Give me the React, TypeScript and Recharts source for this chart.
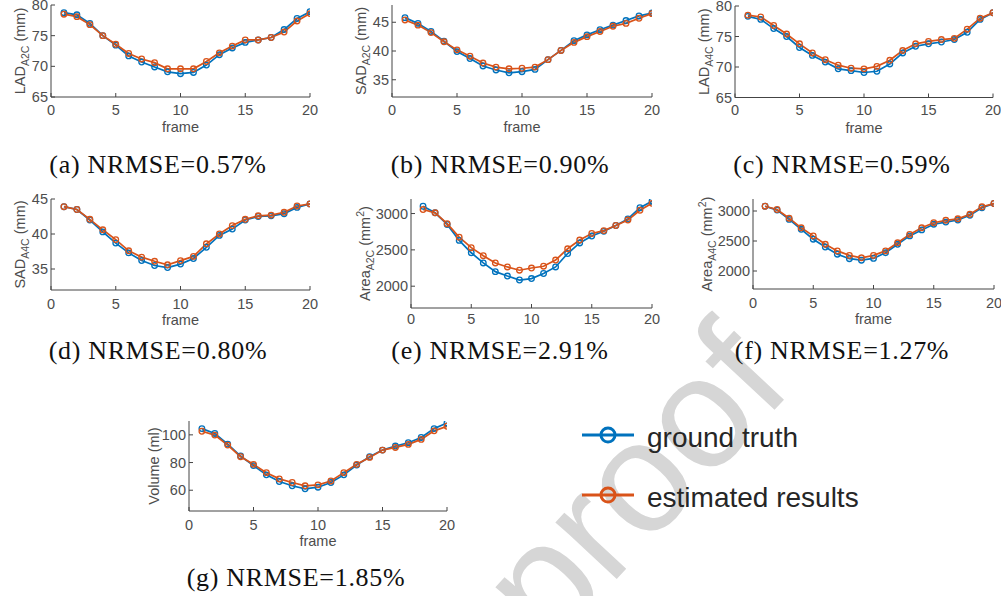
import React from "react";
import { Label, Line, LineChart, XAxis, YAxis } from "recharts";

// frame index shared by every panel
const FRAMES = [1, 2, 3, 4, 5, 6, 7, 8, 9, 10, 11, 12, 13, 14, 15, 16, 17, 18, 19, 20];
const X_TICKS = [0, 5, 10, 15, 20];

// (a) LAD A2C (mm)
const LAD_A2C_TRUTH = [78.75, 78.4, 77.0, 75.0, 73.45, 71.7, 70.7, 69.9, 69.1, 68.8, 69.0, 70.2, 71.9, 73.0, 73.9, 74.3, 74.7, 76.0, 77.8, 78.9];
const LAD_A2C_EST = [78.5, 78.1, 76.8, 75.0, 73.6, 72.1, 71.2, 70.6, 69.6, 69.6, 69.6, 70.8, 72.2, 73.3, 74.3, 74.3, 74.7, 75.6, 77.4, 78.6];

// (b) SAD A2C (mm)
const SAD_A2C_TRUTH = [45.8, 44.8, 43.4, 41.7, 39.9, 38.7, 37.4, 36.7, 36.2, 36.4, 36.8, 38.5, 40.1, 41.8, 42.8, 43.7, 44.5, 45.3, 46.1, 46.6];
const SAD_A2C_EST = [45.4, 44.5, 43.2, 41.6, 40.2, 39.1, 37.9, 37.2, 36.9, 37.0, 37.2, 38.5, 40.1, 41.5, 42.5, 43.4, 44.3, 44.8, 45.7, 46.5];

// (c) LAD A4C (mm)
const LAD_A4C_TRUTH = [78.3, 77.8, 76.3, 75.0, 73.2, 71.9, 70.8, 69.7, 69.4, 69.1, 69.3, 70.5, 72.3, 73.4, 73.8, 74.1, 74.5, 75.7, 77.8, 78.9];
const LAD_A4C_EST = [78.5, 78.2, 76.8, 75.4, 73.8, 72.3, 71.2, 70.3, 69.8, 69.7, 70.1, 71.1, 72.7, 73.8, 74.2, 74.5, 74.7, 76.2, 78.0, 78.9];

// (d) SAD A4C (mm)
const SAD_A4C_TRUTH = [43.9, 43.5, 42.0, 40.3, 38.7, 37.3, 36.2, 35.5, 35.2, 35.7, 36.5, 38.1, 39.8, 40.7, 42.0, 42.5, 42.6, 42.9, 43.8, 44.3];
const SAD_A4C_EST = [43.9, 43.5, 42.1, 40.6, 39.2, 37.6, 36.7, 36.1, 35.6, 36.2, 36.8, 38.6, 40.0, 41.2, 42.1, 42.6, 42.7, 43.1, 44.0, 44.3];

// (e) Area A2C (mm^2)
const AREA_A2C_TRUTH = [3100, 3010, 2850, 2630, 2460, 2320, 2200, 2140, 2085, 2105, 2175, 2265, 2450, 2595, 2690, 2755, 2835, 2925, 3080, 3170];
const AREA_A2C_EST = [3055, 3010, 2860, 2675, 2530, 2420, 2320, 2265, 2220, 2250, 2275, 2360, 2515, 2635, 2725, 2765, 2835, 2910, 3045, 3140];

// (f) Area A4C (mm^2)
const AREA_A4C_TRUTH = [3080, 3015, 2860, 2695, 2530, 2400, 2280, 2205, 2180, 2210, 2305, 2445, 2585, 2685, 2780, 2815, 2850, 2930, 3055, 3125];
const AREA_A4C_EST = [3080, 3025, 2880, 2720, 2585, 2445, 2335, 2260, 2220, 2260, 2335, 2470, 2610, 2720, 2805, 2845, 2870, 2945, 3070, 3125];

// (g) Volume (ml)
const VOLUME_TRUTH = [104.5, 101.0, 93.3, 84.7, 77.8, 71.1, 66.3, 63.2, 61.0, 62.2, 65.6, 71.1, 78.2, 84.2, 89.0, 91.9, 94.3, 98.1, 104.5, 108.6];
const VOLUME_EST = [102.6, 99.8, 92.6, 84.2, 78.7, 72.7, 68.2, 65.6, 63.2, 63.9, 66.7, 72.7, 78.7, 83.7, 89.0, 90.9, 93.1, 96.7, 102.9, 106.2];

const BLUE = "#0072BD";
const ORANGE = "#D95319";
const AXIS = "#444444";
const TEXT = "#4d4d4d";
const SANS = '"Liberation Sans", Arial, Helvetica, sans-serif';
const SERIF = '"Liberation Serif", "Times New Roman", serif';

type AxisLabel = { main: string; sub?: string; unit: string; sup?: string };

type PanelDef = {
  truth: number[];
  est: number[];
  domain: [number, number];
  yTicks: number[];
  yLabel: AxisLabel;
  // plot box in page pixels
  left: number;
  top: number;
  right: number;
  bottom: number;
  yLabelGap: number;
  xTickMargin: number;
  frameLabel: boolean;
};

const PANELS: PanelDef[] = [
  { truth: LAD_A2C_TRUTH, est: LAD_A2C_EST, domain: [65, 80], yTicks: [65, 70, 75, 80], yLabel: { main: "LAD", sub: "A2C", unit: " (mm)" }, left: 51, top: 5, right: 310, bottom: 97, yLabelGap: 26, xTickMargin: 11.5, frameLabel: true },
  { truth: SAD_A2C_TRUTH, est: SAD_A2C_EST, domain: [32, 48], yTicks: [35, 40, 45], yLabel: { main: "SAD", sub: "A2C", unit: " (mm)" }, left: 392, top: 5, right: 652, bottom: 97, yLabelGap: 26, xTickMargin: 11.5, frameLabel: true },
  { truth: LAD_A4C_TRUTH, est: LAD_A4C_EST, domain: [65, 80], yTicks: [65, 70, 75, 80], yLabel: { main: "LAD", sub: "A4C", unit: " (mm)" }, left: 735, top: 5.5, right: 993, bottom: 97, yLabelGap: 26, xTickMargin: 11.5, frameLabel: true },
  { truth: SAD_A4C_TRUTH, est: SAD_A4C_EST, domain: [32, 45], yTicks: [35, 40, 45], yLabel: { main: "SAD", sub: "A4C", unit: " (mm)" }, left: 51, top: 199, right: 310, bottom: 290, yLabelGap: 26, xTickMargin: 13, frameLabel: true },
  { truth: AREA_A2C_TRUTH, est: AREA_A2C_EST, domain: [1700, 3200], yTicks: [2000, 2500, 3000], yLabel: { main: "Area", sub: "A2C", unit: " (mm", sup: "2" }, left: 411, top: 199, right: 652, bottom: 308, yLabelGap: 41, xTickMargin: 9.5, frameLabel: false },
  { truth: AREA_A4C_TRUTH, est: AREA_A4C_EST, domain: [1700, 3200], yTicks: [2000, 2500, 3000], yLabel: { main: "Area", sub: "A4C", unit: " (mm", sup: "2" }, left: 753, top: 199, right: 994, bottom: 289, yLabelGap: 41, xTickMargin: 13, frameLabel: true },
  { truth: VOLUME_TRUTH, est: VOLUME_EST, domain: [45, 110], yTicks: [60, 80, 100], yLabel: { main: "Volume", unit: " (ml)" }, left: 189, top: 421, right: 447, bottom: 511, yLabelGap: 30, xTickMargin: 13, frameLabel: true },
];

const CAPTIONS = [
  "(a) NRMSE=0.57%",
  "(b) NRMSE=0.90%",
  "(c) NRMSE=0.59%",
  "(d) NRMSE=0.80%",
  "(e) NRMSE=2.91%",
  "(f) NRMSE=1.27%",
  "(g) NRMSE=1.85%",
];
// caption centre x / baseline y
const CAPTION_POS: [number, number][] = [
  [158, 173],
  [500, 173],
  [842, 173],
  [158, 359],
  [500, 359],
  [842, 359],
  [296, 586],
];

const LEGEND = [
  { name: "ground truth", color: BLUE },
  { name: "estimated results", color: ORANGE },
];

const YW = 70; // y axis band
const MT = 10;
const MR = 12;
const XH = 50;

function YAxisTitle({ def, plotH }: { def: PanelDef; plotH: number }) {
  const l = def.yLabel;
  const bx = YW - def.yLabelGap;
  const cy = MT + plotH / 2;
  return (
    <text
      transform={`translate(${bx},${cy}) rotate(-90)`}
      textAnchor="middle"
      fontFamily={SANS}
      fontSize={14.5}
      fill={TEXT}
    >
      {l.main}
      {l.sub && (
        <tspan dy={4} fontSize={10.5}>
          {l.sub}
        </tspan>
      )}
      <tspan dy={l.sub ? -4 : 0}>{l.unit}</tspan>
      {l.sup && (
        <>
          <tspan dy={-6} fontSize={10.5}>
            {l.sup}
          </tspan>
          <tspan dy={6}>)</tspan>
        </>
      )}
    </text>
  );
}

function FrameTitle({ plotW, plotH }: { plotW: number; plotH: number }) {
  return (
    <text
      x={YW + plotW / 2}
      y={MT + plotH + 35}
      textAnchor="middle"
      fontFamily={SANS}
      fontSize={14.5}
      fill={TEXT}
    >
      frame
    </text>
  );
}

function Panel({ def }: { def: PanelDef }) {
  const plotW = def.right - def.left;
  const plotH = def.bottom - def.top;
  const data = FRAMES.map((f, i) => ({ frame: f, truth: def.truth[i], est: def.est[i] }));
  const dot = (c: string) => ({ r: 2.8, stroke: c, strokeWidth: 1.3, fill: "none" });
  return (
    <div style={{ position: "absolute", left: def.left - YW, top: def.top - MT }}>
      <LineChart
        width={YW + plotW + MR}
        height={MT + plotH + XH}
        data={data}
        margin={{ top: MT, right: MR, bottom: 0, left: 0 }}
        style={{ overflow: "visible" }}
      >
        <XAxis
          dataKey="frame"
          type="number"
          domain={[0, 20]}
          ticks={X_TICKS}
          interval={0}
          allowDataOverflow
          height={XH}
          axisLine={{ stroke: AXIS, strokeWidth: 1 }}
          tickLine={{ stroke: AXIS }}
          tickSize={-4}
          tickMargin={def.xTickMargin}
          tick={{ fill: TEXT, fontSize: 14.5, fontFamily: SANS }}
        >
          {def.frameLabel && <Label content={() => <FrameTitle plotW={plotW} plotH={plotH} />} />}
        </XAxis>
        <YAxis
          type="number"
          domain={def.domain}
          ticks={def.yTicks}
          interval={0}
          allowDataOverflow
          width={YW}
          axisLine={{ stroke: AXIS, strokeWidth: 1 }}
          tickLine={{ stroke: AXIS }}
          tickSize={-4}
          tickMargin={7}
          tick={{ fill: TEXT, fontSize: 14.5, fontFamily: SANS }}
        >
          <Label content={() => <YAxisTitle def={def} plotH={plotH} />} />
        </YAxis>
        <Line
          dataKey="truth"
          stroke={BLUE}
          strokeWidth={1.7}
          dot={dot(BLUE)}
          activeDot={false}
          isAnimationActive={false}
        />
        <Line
          dataKey="est"
          stroke={ORANGE}
          strokeWidth={1.7}
          dot={dot(ORANGE)}
          activeDot={false}
          isAnimationActive={false}
        />
      </LineChart>
    </div>
  );
}

export default function App() {
  return (
    <div
      style={{
        position: "absolute",
        left: 0,
        top: 0,
        width: 1001,
        height: 596,
        background: "#fff",
        overflow: "hidden",
      }}
    >
      {/* journal pre-proof watermark, sits behind the figure */}
      <svg width={1001} height={596} style={{ position: "absolute", left: 0, top: 0 }}>
        <text
          transform="translate(795,388) rotate(-47)"
          textAnchor="end"
          fontFamily={SANS}
          fontSize={158}
          fill="#d6d6d6"
        >
          proof
        </text>
      </svg>

      {PANELS.map((p, i) => (
        <Panel key={i} def={p} />
      ))}

      <svg width={1001} height={596} style={{ position: "absolute", left: 0, top: 0, pointerEvents: "none" }}>
        {CAPTIONS.map((c, i) => (
          <text
            key={c}
            x={CAPTION_POS[i][0]}
            y={CAPTION_POS[i][1]}
            textAnchor="middle"
            fontFamily={SERIF}
            fontSize={26}
            letterSpacing={0.7}
            fill="#111"
          >
            {c}
          </text>
        ))}
        {LEGEND.map((s, i) => {
          const y = 435 + i * 60;
          return (
            <g key={s.name}>
              <line x1={582} x2={634} y1={y} y2={y} stroke={s.color} strokeWidth={3} />
              <circle cx={608} cy={y} r={7} fill="none" stroke={s.color} strokeWidth={3} />
              <text x={647} y={y + 11.5} fontFamily={SANS} fontSize={28} fill="#262626">
                {s.name}
              </text>
            </g>
          );
        })}
      </svg>
    </div>
  );
}
